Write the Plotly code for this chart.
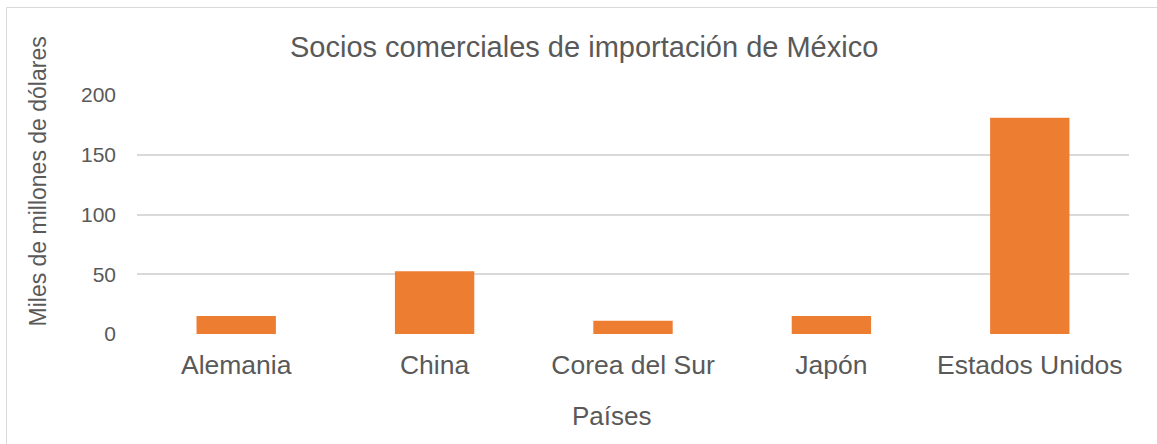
import plotly.graph_objects as go

categories = ["Alemania", "China", "Corea del Sur", "Japón", "Estados Unidos"]
values = [15, 52.5, 11, 15, 181]
y_ticks = [0, 50, 100, 150, 200]
title_text = "Socios comerciales de importación de México"
x_title = "Países"
y_title = "Miles de millones de dólares"

W, H = 1157, 444
L, T = 137, 95
PR, PB = 1129, 334
R, B = W - PR, H - PB
pw, ph = PR - L, PB - T

def px_x(x):
    return (x - L) / pw

def px_y(y):
    return (PB - y) / ph

gray = "#595959"
font = "Liberation Sans, Arial, sans-serif"

fig = go.Figure(go.Bar(x=categories, y=values, marker=dict(color="#ED7D31", line=dict(width=0)), width=0.4))

fig.update_layout(
    width=W, height=H,
    margin=dict(l=L, r=R, t=T, b=B),
    paper_bgcolor="white", plot_bgcolor="white",
    showlegend=False,
    font=dict(family=font, color=gray),
    xaxis=dict(showgrid=False, showline=False, ticks="", tickfont=dict(size=26.5, color=gray),
               ticklabelstandoff=12),
    yaxis=dict(range=[0, 200], tickvals=y_ticks, showgrid=True, gridcolor="#D9D9D9", gridwidth=1.5,
               zeroline=False, showline=False, ticks="", tickfont=dict(size=21, color=gray),
               ticklabelstandoff=20),
    annotations=[
        dict(text=title_text, xref="paper", yref="paper", x=px_x(583.5), y=px_y(47),
             xanchor="center", yanchor="middle", showarrow=False, font=dict(size=29, color=gray)),
        dict(text=y_title, xref="paper", yref="paper", x=px_x(37.5), y=px_y(182), textangle=-90,
             xanchor="center", yanchor="middle", showarrow=False, font=dict(size=23, color=gray)),
        dict(text=x_title, xref="paper", yref="paper", x=px_x(612), y=px_y(416),
             xanchor="center", yanchor="middle", showarrow=False, font=dict(size=26, color=gray)),
    ],
    shapes=[dict(type="rect", xref="paper", yref="paper", x0=px_x(6.5), x1=px_x(1170),
                 y0=px_y(460), y1=px_y(7.5), line=dict(color="#D9D9D9", width=1), layer="below")],
)

fig.write_html("out.html", config={"displayModeBar": False},
               post_script="document.body.style.margin='0';document.body.style.overflow='hidden';")
